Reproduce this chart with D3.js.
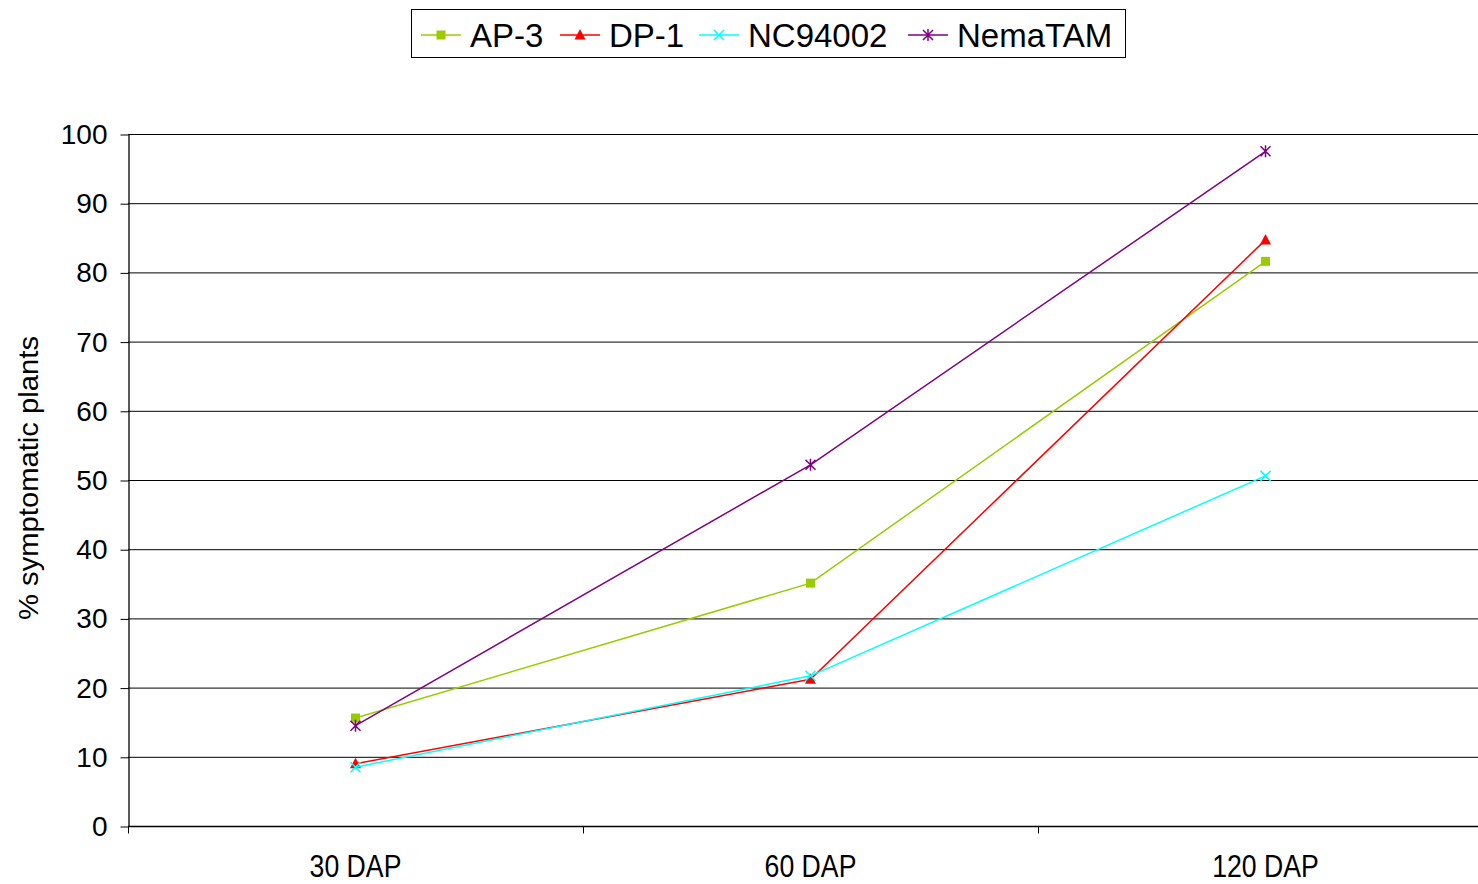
<!DOCTYPE html>
<html lang="en">
<head>
<meta charset="utf-8">
<style>
body { margin: 0; background: #fff; }
svg { display: block; font-family: "Liberation Sans", Arial, sans-serif; }
.grid line { stroke: #000; stroke-width: 1; }
.xlab { font-size: 31px; }
.legend text { font-size: 33px; }
</style>
</head>
<body>
<script src="https://cdn.jsdelivr.net/npm/d3@7"></script>
<script>

var categories = ["30 DAP", "60 DAP", "120 DAP"];
var seriesNames = ["AP-3", "DP-1", "NC94002", "NemaTAM"];
var seriesColors = ["#99cc00", "#ff0000", "#00ffff", "#800080"];
var seriesMarkers = ["square", "triangle", "x", "star"];
var ap3 = [15.6, 35.1, 81.6];
var dp1 = [9.0, 21.2, 84.7];
var nc94002 = [8.5, 21.7, 50.6];
var nematam = [14.5, 52.2, 97.5];
var yTicks = [0, 10, 20, 30, 40, 50, 60, 70, 80, 90, 100];

var seriesValues = [ap3, dp1, nc94002, nematam];

var width = 1478, height = 884;
var plotLeft = 128, plotTop = 134, plotBottom = 826, plotRight = 1493;

var svg = d3.select("body").append("svg")
    .attr("width", width)
    .attr("height", height);

var x = d3.scaleBand()
    .domain(categories)
    .range([plotLeft, plotRight]);

var y = d3.scaleLinear()
    .domain([0, 100])
    .range([plotBottom, plotTop]);

// horizontal gridlines
svg.append("g").attr("class", "grid")
    .selectAll("line")
    .data(yTicks.filter(function(d) { return d > 0; }))
    .enter().append("line")
    .attr("x1", plotLeft).attr("x2", plotRight)
    .attr("y1", function(d) { return y(d) + 0.5; })
    .attr("y2", function(d) { return y(d) + 0.5; });

// y axis
var yAxis = svg.append("g")
    .attr("transform", "translate(" + (plotLeft + 0.5) + ",0.5)")
    .call(d3.axisLeft(y).tickValues(yTicks).tickSize(8).tickPadding(13).tickSizeOuter(0));
yAxis.select(".domain").attr("stroke", "#000").attr("stroke-width", 1.3);
yAxis.selectAll(".tick line").attr("stroke", "#000");
yAxis.selectAll("text").attr("fill", "#000")
    .style("font-size", "28px").style("font-family", "'Liberation Sans', Arial, sans-serif");

// x axis (ticks at band boundaries)
var xAxisG = svg.append("g").attr("transform", "translate(0," + (plotBottom + 0.5) + ")");
xAxisG.append("line")
    .attr("x1", plotLeft).attr("x2", plotRight)
    .attr("stroke", "#000").attr("stroke-width", 1.5);
var bounds = categories.map(function(c) { return x(c); }).concat([plotRight]);
xAxisG.selectAll(".xt")
    .data(bounds)
    .enter().append("line")
    .attr("class", "xt")
    .attr("x1", function(d) { return Math.round(d) + 0.5; })
    .attr("x2", function(d) { return Math.round(d) + 0.5; })
    .attr("y1", 0).attr("y2", 7)
    .attr("stroke", "#000");
// labels are drawn narrow and tall, like the original
xAxisG.selectAll(".xlab")
    .data(categories)
    .enter().append("text")
    .attr("class", "xlab")
    .attr("transform", function(d) {
        return "translate(" + (x(d) + x.bandwidth() / 2) + ",50) scale(0.86,1)";
    })
    .attr("text-anchor", "middle")
    .text(function(d) { return d; });

// y title
svg.append("text")
    .attr("transform", "translate(38,478) rotate(-90)")
    .attr("text-anchor", "middle")
    .attr("textLength", 284)
    .attr("lengthAdjust", "spacingAndGlyphs")
    .style("font-size", "28px")
    .text("% symptomatic plants");

function cx(i) { return x(categories[i]) + x.bandwidth() / 2; }

function drawMarker(g, type, color, px, py) {
    if (type === "square") {
        g.append("rect").attr("x", px - 4.5).attr("y", py - 4.5)
            .attr("width", 9).attr("height", 9).attr("fill", color);
    } else if (type === "triangle") {
        g.append("path")
            .attr("d", "M" + px + "," + (py - 6) + "L" + (px + 5.5) + "," + (py + 4.5) + "L" + (px - 5.5) + "," + (py + 4.5) + "Z")
            .attr("fill", color);
    } else if (type === "x") {
        g.append("path")
            .attr("d", "M" + (px - 5) + "," + (py - 5) + "L" + (px + 5) + "," + (py + 5) +
                  "M" + (px + 5) + "," + (py - 5) + "L" + (px - 5) + "," + (py + 5))
            .attr("stroke", color).attr("stroke-width", 1.5).attr("fill", "none");
    } else {
        g.append("path")
            .attr("d", "M" + (px - 5) + "," + (py - 5) + "L" + (px + 5) + "," + (py + 5) +
                  "M" + (px + 5) + "," + (py - 5) + "L" + (px - 5) + "," + (py + 5) +
                  "M" + px + "," + (py - 6) + "L" + px + "," + (py + 6))
            .attr("stroke", color).attr("stroke-width", 1.5).attr("fill", "none");
    }
}

var line = d3.line()
    .x(function(d, i) { return cx(i); })
    .y(function(d) { return y(d); });

seriesValues.forEach(function(vals, s) {
    var g = svg.append("g");
    g.append("path")
        .datum(vals)
        .attr("d", line)
        .attr("fill", "none")
        .attr("stroke", seriesColors[s])
        .attr("stroke-width", 1.5);
    vals.forEach(function(v, i) {
        drawMarker(g, seriesMarkers[s], seriesColors[s], cx(i), y(v));
    });
});

// legend
var legend = svg.append("g").attr("class", "legend");
legend.append("rect")
    .attr("x", 411.5).attr("y", 9.5)
    .attr("width", 714).attr("height", 48)
    .attr("fill", "#fff").attr("stroke", "#000").attr("stroke-width", 1);
var legendX = [421, 560, 699, 908];
seriesNames.forEach(function(name, s) {
    var lx = legendX[s], ly = 35;
    legend.append("line")
        .attr("x1", lx).attr("x2", lx + 40)
        .attr("y1", ly).attr("y2", ly)
        .attr("stroke", seriesColors[s]).attr("stroke-width", 1.5);
    drawMarker(legend, seriesMarkers[s], seriesColors[s], lx + 20, ly);
    legend.append("text")
        .attr("x", lx + 49).attr("y", ly + 12)
        .text(name);
});

</script>
</body>
</html>
